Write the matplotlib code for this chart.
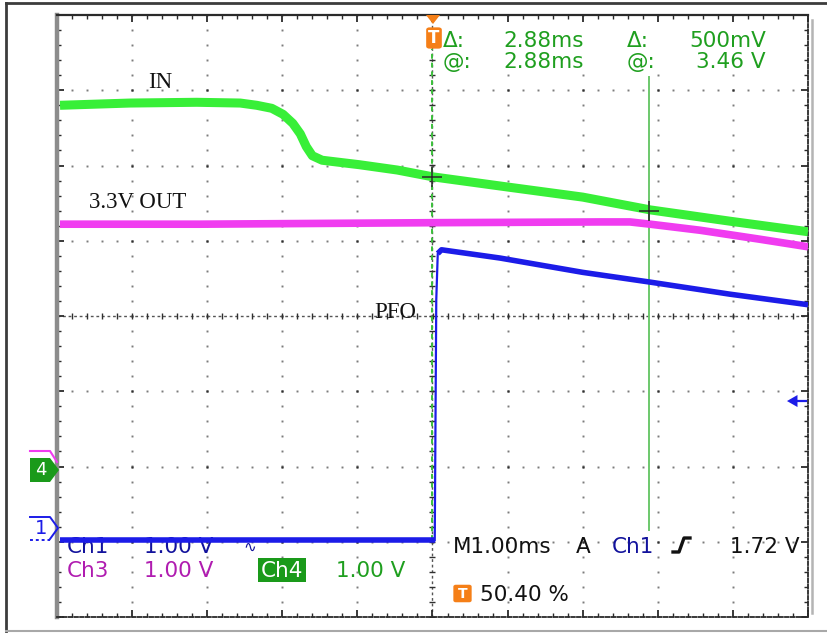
import numpy as np
import matplotlib
matplotlib.use("Agg")
import matplotlib.pyplot as plt
from matplotlib.patches import Polygon, Rectangle, FancyBboxPatch
from matplotlib.lines import Line2D

# ---------------- data (time in ms, level in screen divisions from centre) ----
in_t = [-4.96, -4.03, -3.14, -2.56, -2.34, -2.14, -1.99, -1.86, -1.76, -1.68,
        -1.60, -1.47, -0.97, -0.47, 0.00, 1.03, 2.00, 2.90, 3.96, 5.00]
in_div = [2.80, 2.83, 2.84, 2.83, 2.80, 2.76, 2.68, 2.56, 2.42, 2.25,
          2.13, 2.07, 2.01, 1.94, 1.85, 1.71, 1.58, 1.41, 1.26, 1.12]

out_t = [-4.96, -3.10, 0.00, 2.23, 2.63, 2.90, 3.56, 4.36, 5.00]
out_div = [1.22, 1.22, 1.24, 1.25, 1.25, 1.22, 1.14, 1.02, 0.92]

pfo_t = [-4.96, 0.03, 0.05, 0.07, 0.12, 0.90, 2.00, 2.90, 3.96, 5.00]
pfo_div = [-2.98, -2.98, 0.21, 0.83, 0.88, 0.77, 0.58, 0.45, 0.29, 0.15]

cursor_t = [0.0, 2.88]
cursor_div = [1.85, 1.40]
trigger_level_div = -1.13

readout_top = [("\u0394:", "2.88ms", "\u0394:", "500mV"),
               ("@:", "2.88ms", "@:", "3.46 V")]
ch_scale = ["Ch1", "1.00 V", "Ch3", "1.00 V", "Ch4", "1.00 V"]
timebase = "M1.00ms"
trig_src = "Ch1"
trig_val = "1.72 V"
trig_pos = "50.40 %"
labels = ["IN", "3.3V OUT", "PFO"]

# ---------------- colours ----------------
C_IN = "#38ef38"
C_OUT = "#f03cf0"
C_PFO = "#1c1ce8"
C_GREEN_TXT = "#1f9f1f"
C_CH1_TXT = "#12129c"
C_CH3_TXT = "#b01cb0"
C_ORANGE = "#f57f17"

W, H = 827, 634
fig = plt.figure(figsize=(W / 100, H / 100), dpi=100)


def fx(x):
    return x / W


def fy(y):
    return 1 - y / H


ax = fig.add_axes([fx(57), fy(617), (808 - 57) / W, (617 - 15) / H])
ax.set_xlim(-5, 5)
ax.set_ylim(-4, 4)
TF = fig.transFigure

# ---------------- graticule ----------------
ax.set_xticks(np.arange(-5, 5.01, 1))
ax.set_xticks(np.arange(-5, 5.01, 0.2), minor=True)
ax.set_yticks(np.arange(-4, 4.01, 1))
ax.set_yticks(np.arange(-4, 4.01, 0.2), minor=True)
ax.tick_params(which="both", direction="in", top=True, right=True,
               labelbottom=False, labelleft=False, color="#2a2a2a")
ax.tick_params(which="major", length=5, width=1.3)
ax.tick_params(which="minor", length=3, width=1.0)
ax.spines["top"].set_color("#2a2a2a")
ax.spines["top"].set_linewidth(1.6)
for s in ["right", "bottom"]:
    ax.spines[s].set_color("#2a2a2a")
    ax.spines[s].set_linewidth(1.3)
    ax.spines[s].set_linestyle((0, (2, 1.2)))
ax.spines["left"].set_color("#8c8c8c")
ax.spines["left"].set_linewidth(3.2)

minor = np.arange(-5, 5.01, 0.2)
minor_y = np.arange(-4, 4.01, 0.2)
for yv in [-3, -2, -1, 1, 2, 3]:
    ax.plot(minor, np.full_like(minor, yv), ls="none", marker="s", ms=1.4,
            mfc="#7c7c7c", mec="none", zorder=1)
for xv in [-4, -3, -2, -1, 1, 2, 3, 4]:
    ax.plot(np.full_like(minor_y, xv), minor_y, ls="none", marker="s", ms=1.4,
            mfc="#7c7c7c", mec="none", zorder=1)
for xv in range(-4, 5):
    for yv in range(-3, 4):
        ax.plot([xv], [yv], ls="none", marker="s", ms=2.0, mfc="#303030",
                mec="none", zorder=1)
# centre cross
ax.plot([-5, 5], [0, 0], color="#555555", lw=1.0, ls=(0, (2, 2)), zorder=1)
ax.plot(minor, np.zeros_like(minor), ls="none", marker="|", ms=5, mew=1.0,
        color="#303030", zorder=1)
ax.plot([0, 0], [-4, 4], color="#555555", lw=1.0, ls=(0, (2, 2)), zorder=1)
ax.plot(np.zeros_like(minor_y), minor_y, ls="none", marker="_", ms=5, mew=1.0,
        color="#303030", zorder=1)

# ---------------- cursors ----------------
ax.plot([cursor_t[0], cursor_t[0]], [-2.98, 3.55], color="#3cbf3c", lw=1.4,
        ls=(0, (2.5, 2)), zorder=2)
ax.plot([cursor_t[1], cursor_t[1]], [-2.85, 3.18], color="#6cc86c", lw=1.4,
        zorder=2)

# white background behind the cursor readout
ax.add_patch(Rectangle((fx(442), fy(73)), (800 - 442) / W, (73 - 24) / H,
                       transform=TF, fc="white", ec="none", zorder=2.6,
                       clip_on=False))

# ---------------- readout texts ----------------
tk = dict(family="DejaVu Sans", fontsize=15.5, transform=TF, zorder=3,
          va="baseline")
for row, yb in zip(readout_top, [47, 68]):
    ax.text(fx(443), fy(yb), row[0], color=C_GREEN_TXT, ha="left", **tk)
    ax.text(fx(584), fy(yb), row[1], color=C_GREEN_TXT, ha="right", **tk)
    ax.text(fx(627), fy(yb), row[2], color=C_GREEN_TXT, ha="left", **tk)
    ax.text(fx(766), fy(yb), row[3], color=C_GREEN_TXT, ha="right", **tk)

ax.text(fx(67), fy(553), ch_scale[0], color=C_CH1_TXT, ha="left", **tk)
ax.text(fx(213), fy(553), ch_scale[1], color=C_CH1_TXT, ha="right", **tk)
ax.text(fx(250), fy(552), "\u223f", color=C_CH1_TXT, ha="center",
        family="DejaVu Sans", fontsize=11, transform=TF, zorder=3,
        va="baseline")
ax.text(fx(67), fy(577), ch_scale[2], color=C_CH3_TXT, ha="left", **tk)
ax.text(fx(213), fy(577), ch_scale[3], color=C_CH3_TXT, ha="right", **tk)
ax.add_patch(Rectangle((fx(258), fy(582)), 48 / W, 24 / H, transform=TF,
                       fc="#1a9a1a", ec="none", zorder=2.8, clip_on=False))
ax.text(fx(282), fy(577), ch_scale[4], color="white", ha="center", **tk)
ax.text(fx(405), fy(577), ch_scale[5], color=C_GREEN_TXT, ha="right", **tk)

ax.text(fx(453), fy(553), timebase, color="#111111", ha="left", **tk)
ax.text(fx(583), fy(553), "A", color="#111111", ha="center", **tk)
ax.text(fx(612), fy(553), trig_src, color=C_CH1_TXT, ha="left", **tk)
ax.add_line(Line2D([fx(673), fx(679), fx(684), fx(690)],
                   [fy(552), fy(552), fy(538), fy(538)], transform=TF,
                   color="#111111", lw=2.4, zorder=3, clip_on=False))
ax.text(fx(800), fy(553), trig_val, color="#111111", ha="right", **tk)

ax.add_patch(FancyBboxPatch((fx(455), fy(601)), 15 / W, 15 / H,
                            boxstyle="round,pad=0.002,rounding_size=0.003",
                            transform=TF, fc=C_ORANGE, ec="none", zorder=3,
                            clip_on=False))
ax.text(fx(462.5), fy(593.5), "T", color="white", ha="center", va="center",
        family="DejaVu Sans", fontsize=10, fontweight="bold", transform=TF,
        zorder=3.1)
ax.text(fx(480), fy(601), trig_pos, color="#111111", ha="left", **tk)

# ---------------- waveform labels ----------------
lk = dict(family="Liberation Serif", fontsize=16.5, color="#111111",
          transform=TF, zorder=3, va="baseline", ha="left")
ax.text(fx(148), fy(88), labels[0], **lk)
ax.text(fx(89), fy(208), labels[1], **lk)
ax.text(fx(374), fy(318), labels[2], **lk)

# ---------------- traces ----------------
ax.plot(in_t, in_div, color=C_IN, lw=6.5, solid_joinstyle="round",
        solid_capstyle="butt", zorder=4)
ax.plot(out_t, out_div, color=C_OUT, lw=5.5, solid_joinstyle="round",
        solid_capstyle="butt", zorder=4)
ax.plot(pfo_t[:2], pfo_div[:2], color=C_PFO, lw=4.0, solid_capstyle="butt",
        zorder=4.5)
ax.plot(pfo_t[1:5], pfo_div[1:5], color=C_PFO, lw=1.6, zorder=4.5)
ax.plot(pfo_t[3:], pfo_div[3:], color=C_PFO, lw=4.0, solid_joinstyle="round",
        solid_capstyle="butt", zorder=4.5)
ax.plot(cursor_t, cursor_div, ls="none", marker="+", ms=15, mew=1.1,
        color="#2a2a2a", zorder=5)

# ---------------- markers ----------------
# trigger position (top)
ax.add_patch(Polygon([(fx(426), fy(15)), (fx(440), fy(15)), (fx(433), fy(24))],
                     closed=True, transform=TF, fc=C_ORANGE, ec="none",
                     zorder=5, clip_on=False))
ax.add_patch(FancyBboxPatch((fx(427), fy(48)), 14 / W, 20 / H,
                            boxstyle="round,pad=0.001,rounding_size=0.004",
                            transform=TF, fc=C_ORANGE, ec="none", zorder=5,
                            clip_on=False))
ax.text(fx(434), fy(38), "T", color="white", ha="center", va="center",
        family="DejaVu Sans", fontsize=12, fontweight="bold", transform=TF,
        zorder=5.1)

# trigger level arrow (right)
yl = trigger_level_div
ax.add_patch(Polygon([(4.72, yl), (4.86, yl + 0.08), (4.86, yl - 0.08)],
                     closed=True, fc=C_PFO, ec="none", zorder=5, clip_on=False))
ax.plot([4.84, 4.97], [yl, yl], color=C_PFO, lw=1.6, zorder=5)

# channel ground markers (left)
ax.add_line(Line2D([fx(30), fx(50), fx(57)], [fy(451), fy(451), fy(462)],
                   transform=TF, color=C_OUT, lw=1.5, clip_on=False, zorder=5))
ax.add_patch(Polygon([(fx(30), fy(458)), (fx(50), fy(458)), (fx(59), fy(470)),
                      (fx(50), fy(482)), (fx(30), fy(482))], closed=True,
                     transform=TF, fc="#1a9a1a", ec="none", zorder=5.2,
                     clip_on=False))
ax.text(fx(41), fy(470), "4", color="white", ha="center", va="center",
        family="DejaVu Sans", fontsize=13, transform=TF, zorder=5.3)
ax.add_line(Line2D([fx(30), fx(50), fx(58), fx(50)],
                   [fy(517), fy(517), fy(528), fy(539)], transform=TF,
                   color=C_PFO, lw=1.4, clip_on=False, zorder=5))
ax.add_line(Line2D([fx(30), fx(50)], [fy(540), fy(540)], transform=TF,
                   color=C_PFO, lw=1.4, ls=(0, (1.5, 1.5)), clip_on=False,
                   zorder=5))
ax.text(fx(41), fy(528), "1", color=C_PFO, ha="center", va="center",
        family="DejaVu Sans", fontsize=14, transform=TF, zorder=5.3)

# ---------------- outer frame ----------------
fig.add_artist(Line2D([fx(6), fx(827)], [fy(3), fy(3)], color="#3c3c3c", lw=2))
fig.add_artist(Line2D([fx(6), fx(6)], [fy(3), fy(631)], color="#3c3c3c", lw=2))
fig.add_artist(Line2D([fx(6), fx(827)], [fy(631), fy(631)], color="#a8a8a8",
                      lw=1.5))
fig.add_artist(Line2D([fx(812), fx(812)], [fy(20), fy(613)], color="#b4b4b4",
                      lw=1.8))

fig.savefig("out.png", dpi=100)
